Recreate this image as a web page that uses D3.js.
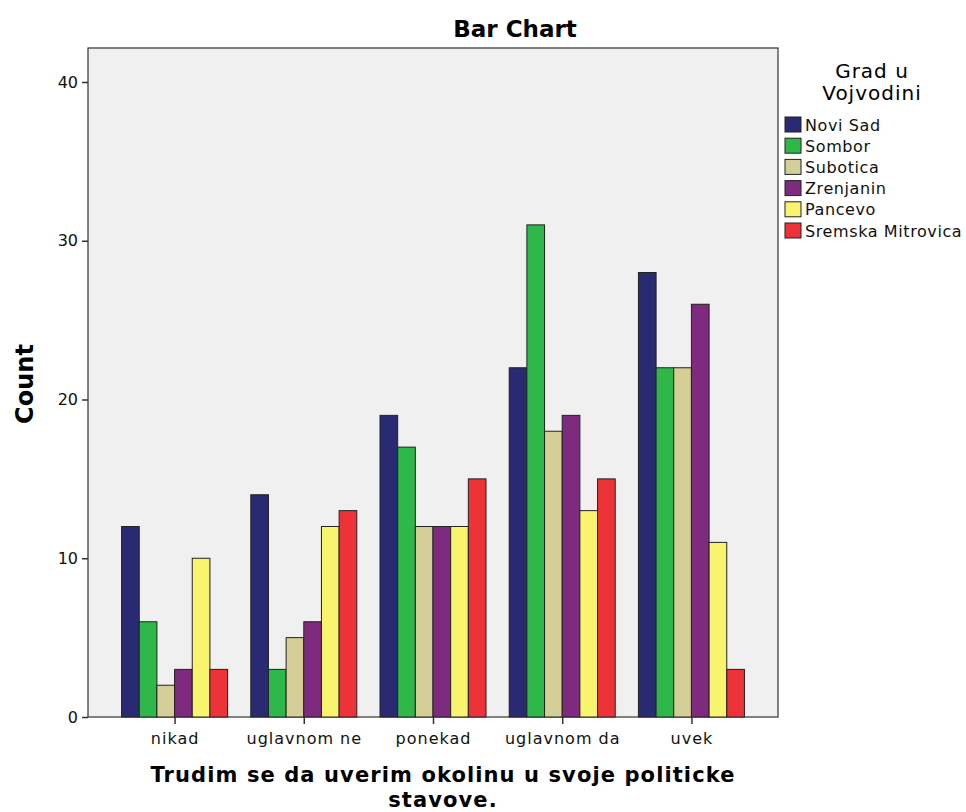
<!DOCTYPE html>
<html><head><meta charset="utf-8">
<script src="https://cdn.jsdelivr.net/npm/d3@7"></script>
<style>body{margin:0;background:#fff;} text{font-family:"DejaVu Sans",sans-serif;}</style>
</head><body>
<svg id="chart" width="966" height="812"></svg>
<script>
const categories = ["nikad","uglavnom ne","ponekad","uglavnom da","uvek"];
const seriesNames = ["Novi Sad","Sombor","Subotica","Zrenjanin","Pancevo","Sremska Mitrovica"];
const seriesColors = ["#2a2a72","#2fb84a","#d4cf97","#7e2a7e","#f9f46d","#ee3338"];
const noviSad   = [12,14,19,22,28];
const sombor    = [6,3,17,31,22];
const subotica  = [2,5,12,18,22];
const zrenjanin = [3,6,12,19,26];
const pancevo   = [10,12,12,13,11];
const sremska   = [3,13,15,15,3];
const yTicks = [0,10,20,30,40];
const xTitleLines = ["Trudim se da uverim okolinu u svoje politicke","stavove."];
const seriesValues = [noviSad,sombor,subotica,zrenjanin,pancevo,sremska];

const svg = d3.select("#chart");
const L=88,R=778,T=48,B=717;
svg.append("rect").attr("x",L).attr("y",T).attr("width",R-L).attr("height",B-T)
  .attr("fill","#f0f0f0").attr("stroke","#333").attr("stroke-width",1.2);

const x = d3.scalePoint().domain(categories).range([L,R]).padding(0.67);
const y = d3.scaleLinear().domain([0,40]).range([B,82]);
const x1 = d3.scaleBand().domain(seriesNames).range([-53,53]).padding(0);

const g = svg.append("g");
categories.forEach((c,ci)=>{
  seriesNames.forEach((s,si)=>{
    const v = seriesValues[si][ci];
    g.append("rect").attr("x",x(c)+x1(s)).attr("y",y(v))
      .attr("width",x1.bandwidth()).attr("height",y(0)-y(v))
      .attr("fill",seriesColors[si]).attr("stroke","#222").attr("stroke-width",1);
  });
});

const ya = svg.append("g").attr("transform",`translate(${L},0)`)
  .call(d3.axisLeft(y).tickValues(yTicks).tickSize(6).tickPadding(4));
ya.select(".domain").remove();
ya.selectAll("line").attr("stroke","#333").attr("stroke-width",1.5);
ya.selectAll("text").attr("font-size",16).attr("fill","#111");

const xa = svg.append("g").attr("transform",`translate(0,${B})`)
  .call(d3.axisBottom(x).tickSize(7).tickPadding(9));
xa.select(".domain").remove();
xa.selectAll("line").attr("stroke","#333").attr("stroke-width",1.5);
xa.selectAll("text").attr("font-size",16).attr("letter-spacing","1px").attr("fill","#111");

svg.append("text").attr("x",515).attr("y",37).attr("text-anchor","middle")
  .attr("font-size",23).attr("font-weight","bold").text("Bar Chart");
svg.append("text").attr("transform","translate(33,384) rotate(-90)").attr("text-anchor","middle")
  .attr("font-size",24).attr("font-weight","bold").text("Count");
xTitleLines.forEach((t,i)=>{
  svg.append("text").attr("x",443).attr("y",782 + i*25).attr("text-anchor","middle")
    .attr("font-size",21).attr("letter-spacing","1.1px").attr("font-weight","bold").text(t);
});

const lg = svg.append("g");
lg.append("text").attr("x",872).attr("y",78).attr("text-anchor","middle").attr("font-size",20)
  .attr("letter-spacing","1px").text("Grad u");
lg.append("text").attr("x",872).attr("y",100).attr("text-anchor","middle").attr("font-size",20)
  .attr("letter-spacing","1px").text("Vojvodini");
seriesNames.forEach((s,i)=>{
  const cy = 124.5 + i*21.2;
  lg.append("rect").attr("x",785).attr("y",cy-7.5).attr("width",16).attr("height",15)
    .attr("fill",seriesColors[i]).attr("stroke","#222").attr("stroke-width",1);
  lg.append("text").attr("x",805).attr("y",cy+6).attr("font-size",16)
    .attr("letter-spacing","0.6px").attr("fill","#111").text(s);
});
</script>
</body></html>
